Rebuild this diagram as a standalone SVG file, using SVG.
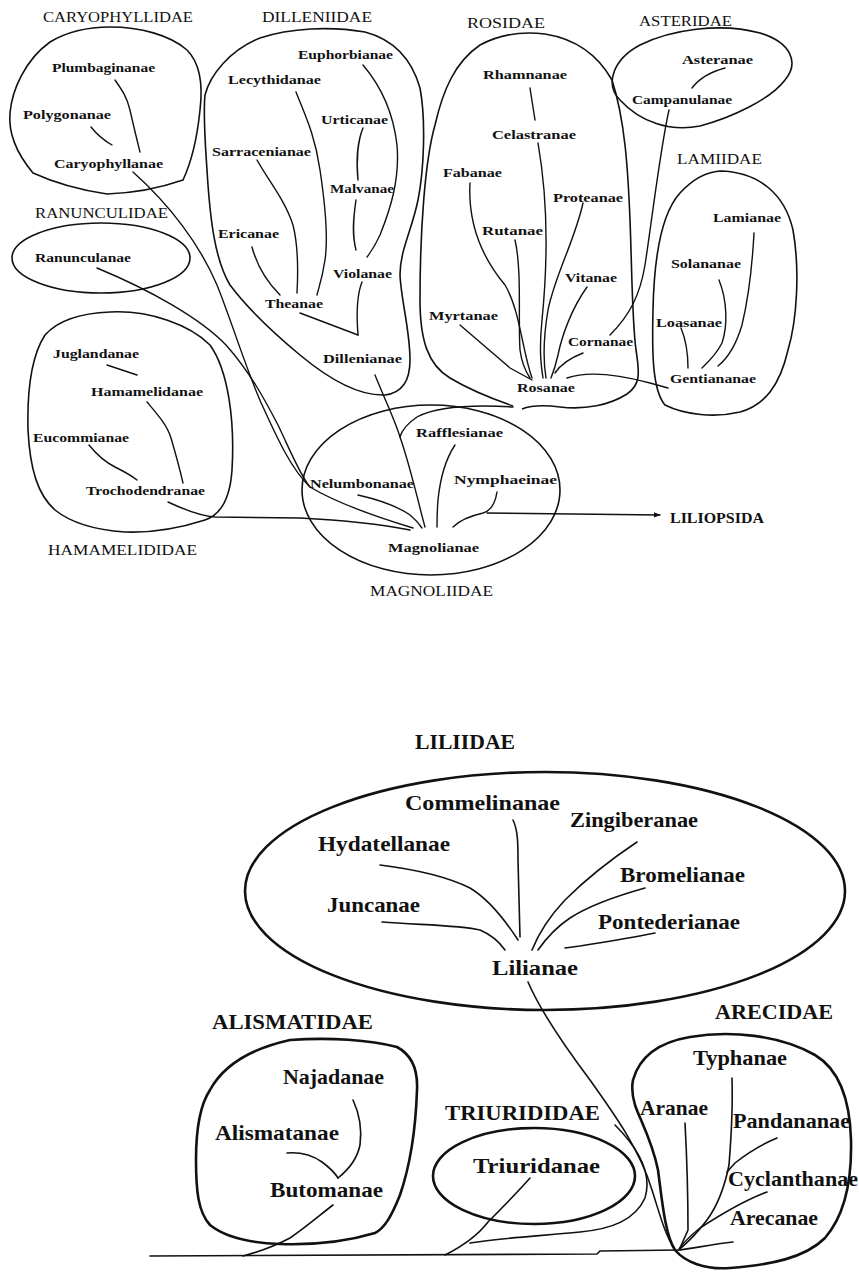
<svg xmlns="http://www.w3.org/2000/svg" width="859" height="1272" viewBox="0 0 859 1272">
<style>
.n{font-family:"Liberation Serif","Times New Roman",serif;font-weight:bold;font-size:13.5px;fill:#111}
.h{font-family:"Liberation Serif","Times New Roman",serif;font-size:15px;fill:#111}
.b{font-family:"Liberation Serif","Times New Roman",serif;font-weight:bold;font-size:21px;fill:#111}
.o{fill:none;stroke:#111;stroke-width:1.6}
.ot{fill:none;stroke:#111;stroke-width:2.6}
.c{fill:none;stroke:#111;stroke-width:1.4;stroke-linecap:round}
.cb{fill:none;stroke:#111;stroke-width:1.6;stroke-linecap:round}
</style>
<defs>
<marker id="arr" viewBox="0 0 10 10" refX="9" refY="5" markerWidth="7" markerHeight="7" orient="auto" markerUnits="userSpaceOnUse">
<path d="M0,1 L10,5 L0,9 Z" fill="#111"/>
</marker>
</defs>
<rect width="859" height="1272" fill="#fff"/>

<g id="connectors">
<!-- Caryophyllidae -->
<path class="c" d="M115,80 C122,90 127,97 130,110 C134,128 137,140 140,152"/>
<path class="c" d="M91,127 C98,136 105,141 112,145"/>
<!-- to Magnolianae -->
<path class="c" d="M133,172 C170,205 200,245 217,285 C233,325 248,375 263,407 C278,440 292,470 310,487 C340,505 380,518 413,528"/>
<path class="c" d="M97,268 C150,290 200,318 226,345 C250,372 265,400 278,425 C290,450 300,475 310,487"/>
<path class="c" d="M168,502 C185,510 200,516 215,517 L300,518 C340,520 380,524 410,530"/>
<!-- Hamamelididae -->
<path class="c" d="M107,365 L137,375"/>
<path class="c" d="M147,402 C158,415 167,425 171,438 C176,455 180,470 183,483"/>
<path class="c" d="M89,445 C97,455 105,462 115,467 C125,472 132,476 137,480"/>
<!-- Dilleniidae -->
<path class="c" d="M363,65 C380,85 393,110 397,145 C400,180 390,210 380,235 C374,248 370,253 367,257"/>
<path class="c" d="M296,92 C305,115 315,135 320,170 C326,210 328,240 325,260 C322,280 318,290 317,295"/>
<path class="c" d="M363,128 C358,140 356,160 358,180"/>
<path class="c" d="M356,200 C353,220 352,235 356,250"/>
<path class="c" d="M257,160 C268,180 285,200 293,225 C298,245 298,275 297,293"/>
<path class="c" d="M252,247 C256,262 265,280 280,295"/>
<path class="c" d="M362,282 C358,292 356,310 358,335"/>
<path class="c" d="M300,313 L358,335"/>
<path class="c" d="M375,375 C385,400 395,420 400,437 C408,460 414,485 418,500 C421,512 423,520 425,527"/>
<path class="c" d="M513,407 C480,405 440,405 417,417 C408,423 402,430 400,437"/>
<!-- Rosidae -->
<path class="c" d="M530,88 L535,120"/>
<path class="c" d="M538,143 C548,200 548,260 542,320 C539,350 541,365 543,378"/>
<path class="c" d="M470,183 C468,220 480,255 505,285 C520,310 522,350 532,378"/>
<path class="c" d="M515,240 C522,270 518,320 520,350 C522,365 526,372 530,378"/>
<path class="c" d="M583,203 C575,240 555,275 548,310 C543,340 543,360 546,378"/>
<path class="c" d="M587,287 C572,308 562,335 558,355 C555,368 553,373 551,378"/>
<path class="c" d="M583,353 C570,358 561,364 555,373"/>
<path class="c" d="M460,325 L510,368 L532,380"/>
<path class="c" d="M567,378 C590,370 620,375 650,383 L668,388"/>
<!-- Asteridae / Lamiidae -->
<path class="c" d="M725,68 C710,72 698,80 692,88"/>
<path class="c" d="M669,110 C660,150 652,220 645,265 C640,295 630,315 610,335"/>
<path class="c" d="M754,233 C752,270 748,300 742,325 C736,345 728,358 718,366"/>
<path class="c" d="M719,280 C727,300 728,325 722,343 C716,355 708,362 702,368"/>
<path class="c" d="M681,328 C686,340 688,355 688,368"/>
<!-- Magnoliidae -->
<path class="c" d="M358,495 C380,500 400,508 410,515 C416,520 420,525 422,528"/>
<path class="c" d="M455,445 C445,460 440,480 438,500 C437,512 437,520 437,527"/>
<path class="c" d="M497,492 C495,505 490,511 483,513 C470,516 460,520 453,527"/>
<path class="c" d="M487,513 L660,515" marker-end="url(#arr)"/>
<!-- Liliidae -->
<path class="cb" d="M513,820 C518,830 518,845 518,860 L520,937"/>
<path class="cb" d="M380,865 C420,870 450,878 470,888 C490,900 505,920 518,940"/>
<path class="cb" d="M382,922 C420,925 460,925 480,930 C492,935 500,943 505,950"/>
<path class="cb" d="M637,842 C610,860 585,880 565,900 C548,918 538,935 532,950"/>
<path class="cb" d="M645,888 C620,895 590,905 570,918 C555,928 545,940 538,950"/>
<path class="cb" d="M655,933 C630,938 605,942 580,946 L565,948"/>
<path class="cb" d="M528,982 C540,1010 560,1040 590,1080 C615,1115 640,1150 652,1190 C660,1215 665,1235 675,1250"/>
<!-- Alismatidae -->
<path class="cb" d="M353,1100 C360,1115 362,1130 360,1145 C357,1160 348,1170 338,1178"/>
<path class="cb" d="M287,1153 C300,1152 312,1155 322,1162 C330,1168 335,1173 338,1178"/>
<path class="cb" d="M333,1205 C320,1215 305,1228 290,1238 C275,1246 258,1252 243,1256"/>
<!-- Triurididae -->
<path class="cb" d="M530,1178 C515,1195 498,1212 488,1222 C478,1235 465,1245 445,1255"/>
<path class="cb" d="M470,1243 C500,1238 540,1236 580,1232 C612,1229 635,1220 645,1198 C652,1175 640,1150 615,1125"/>
<!-- Arecidae -->
<path class="cb" d="M685,1123 C687,1160 688,1200 688,1230 L680,1248"/>
<path class="cb" d="M732,1078 C733,1110 731,1140 729,1165 C725,1185 718,1205 707,1220 C698,1232 688,1242 680,1249"/>
<path class="cb" d="M777,1138 C760,1145 745,1155 735,1163 L727,1172"/>
<path class="cb" d="M767,1192 C745,1200 720,1215 700,1228 C690,1236 684,1242 679,1249"/>
<path class="cb" d="M733,1242 C715,1244 700,1247 680,1250"/>
<path class="cb" d="M150,1256 L597,1254 L600,1251 L680,1250"/>
</g>

<g id="caryophyllidae">
<path class="o" d="M33,173 C18,155 8,135 10,113 C12,90 25,60 50,42 C70,30 90,27 110,27 C140,27 170,35 187,50 C200,63 203,85 200,110 C197,140 190,165 183,180 C160,188 135,193 107,194 C80,190 55,183 33,173 Z"/>
<text class="h" x="43" y="22" textLength="150" lengthAdjust="spacingAndGlyphs">CARYOPHYLLIDAE</text>
<text class="n" x="52" y="72" textLength="103" lengthAdjust="spacingAndGlyphs">Plumbaginanae</text>
<text class="n" x="23" y="119" textLength="88" lengthAdjust="spacingAndGlyphs">Polygonanae</text>
<text class="n" x="54" y="168" textLength="109" lengthAdjust="spacingAndGlyphs">Caryophyllanae</text>
</g>

<g id="ranunculidae">
<ellipse class="o" cx="101" cy="258" rx="89" ry="35"/>
<text class="h" x="35" y="218" textLength="133" lengthAdjust="spacingAndGlyphs">RANUNCULIDAE</text>
<text class="n" x="35" y="262" textLength="96" lengthAdjust="spacingAndGlyphs">Ranunculanae</text>
</g>

<g id="dilleniidae">
<path class="o" d="M205,95 C210,75 230,50 260,38 C290,28 330,26 365,32 C395,40 412,60 420,88 C426,120 424,170 418,200 C412,230 400,250 400,275 C401,300 410,330 410,360 C410,380 402,393 385,395 C360,396 330,380 300,355 C270,330 245,305 230,285 C215,260 210,220 207,170 C205,140 203,115 205,95 Z"/>
<text class="h" x="262" y="22" textLength="110" lengthAdjust="spacingAndGlyphs">DILLENIIDAE</text>
<text class="n" x="298" y="59" textLength="95" lengthAdjust="spacingAndGlyphs">Euphorbianae</text>
<text class="n" x="228" y="84" textLength="93" lengthAdjust="spacingAndGlyphs">Lecythidanae</text>
<text class="n" x="321" y="124" textLength="67" lengthAdjust="spacingAndGlyphs">Urticanae</text>
<text class="n" x="212" y="156" textLength="99" lengthAdjust="spacingAndGlyphs">Sarracenianae</text>
<text class="n" x="330" y="193" textLength="64" lengthAdjust="spacingAndGlyphs">Malvanae</text>
<text class="n" x="218" y="238" textLength="61" lengthAdjust="spacingAndGlyphs">Ericanae</text>
<text class="n" x="333" y="278" textLength="59" lengthAdjust="spacingAndGlyphs">Violanae</text>
<text class="n" x="265" y="308" textLength="58" lengthAdjust="spacingAndGlyphs">Theanae</text>
<text class="n" x="323" y="363" textLength="79" lengthAdjust="spacingAndGlyphs">Dillenianae</text>
</g>

<g id="rosidae">
<path class="o" d="M513,406 C490,398 470,390 450,378 C428,365 420,340 420,300 C420,230 425,160 435,125 C443,90 455,62 480,45 C500,34 520,31 545,34 C570,38 595,50 612,80 C625,120 628,170 630,220 C632,270 632,320 636,350 C640,375 640,385 627,394 C610,405 585,410 560,407 C545,405 532,405 522,409"/>
<text class="h" x="467" y="28" textLength="78" lengthAdjust="spacingAndGlyphs">ROSIDAE</text>
<text class="n" x="483" y="79" textLength="84" lengthAdjust="spacingAndGlyphs">Rhamnanae</text>
<text class="n" x="492" y="139" textLength="84" lengthAdjust="spacingAndGlyphs">Celastranae</text>
<text class="n" x="443" y="177" textLength="59" lengthAdjust="spacingAndGlyphs">Fabanae</text>
<text class="n" x="553" y="202" textLength="70" lengthAdjust="spacingAndGlyphs">Proteanae</text>
<text class="n" x="482" y="235" textLength="61" lengthAdjust="spacingAndGlyphs">Rutanae</text>
<text class="n" x="565" y="282" textLength="52" lengthAdjust="spacingAndGlyphs">Vitanae</text>
<text class="n" x="429" y="320" textLength="69" lengthAdjust="spacingAndGlyphs">Myrtanae</text>
<text class="n" x="568" y="346" textLength="65" lengthAdjust="spacingAndGlyphs">Cornanae</text>
<text class="n" x="517" y="392" textLength="58" lengthAdjust="spacingAndGlyphs">Rosanae</text>
</g>

<g id="asteridae">
<path class="o" d="M620,100 C605,85 612,60 640,45 C670,30 720,22 760,33 C790,42 800,62 785,80 C770,100 730,118 700,126 C670,132 640,122 620,100 Z"/>
<text class="h" x="639" y="26" textLength="93" lengthAdjust="spacingAndGlyphs">ASTERIDAE</text>
<text class="n" x="682" y="64" textLength="71" lengthAdjust="spacingAndGlyphs">Asteranae</text>
<text class="n" x="632" y="104" textLength="100" lengthAdjust="spacingAndGlyphs">Campanulanae</text>
</g>

<g id="lamiidae">
<path class="o" d="M720,171 C760,172 785,195 793,230 C800,270 797,320 788,350 C780,385 765,405 740,412 C715,418 685,415 665,405 C652,390 652,350 653,310 C654,260 660,215 680,193 C692,180 705,172 720,171 Z"/>
<text class="h" x="677" y="164" textLength="85" lengthAdjust="spacingAndGlyphs">LAMIIDAE</text>
<text class="n" x="713" y="222" textLength="68" lengthAdjust="spacingAndGlyphs">Lamianae</text>
<text class="n" x="671" y="268" textLength="70" lengthAdjust="spacingAndGlyphs">Solananae</text>
<text class="n" x="656" y="327" textLength="66" lengthAdjust="spacingAndGlyphs">Loasanae</text>
<text class="n" x="670" y="383" textLength="86" lengthAdjust="spacingAndGlyphs">Gentiananae</text>
</g>

<g id="hamamelididae">
<path class="o" d="M110,312 C150,310 190,325 210,345 C228,370 235,420 232,470 C230,500 220,515 205,520 C180,528 150,533 125,532 C95,530 70,522 55,510 C38,495 30,470 28,430 C27,390 32,355 45,335 C60,318 85,313 110,312 Z"/>
<text class="h" x="48" y="555" textLength="149" lengthAdjust="spacingAndGlyphs">HAMAMELIDIDAE</text>
<text class="n" x="53" y="358" textLength="86" lengthAdjust="spacingAndGlyphs">Juglandanae</text>
<text class="n" x="91" y="396" textLength="112" lengthAdjust="spacingAndGlyphs">Hamamelidanae</text>
<text class="n" x="33" y="442" textLength="96" lengthAdjust="spacingAndGlyphs">Eucommianae</text>
<text class="n" x="86" y="495" textLength="119" lengthAdjust="spacingAndGlyphs">Trochodendranae</text>
</g>

<g id="magnoliidae">
<ellipse class="o" cx="431" cy="490" rx="129" ry="85"/>
<text class="h" x="370" y="596" textLength="123" lengthAdjust="spacingAndGlyphs">MAGNOLIIDAE</text>
<text class="n" x="416" y="437" textLength="87" lengthAdjust="spacingAndGlyphs">Rafflesianae</text>
<text class="n" x="454" y="484" textLength="103" lengthAdjust="spacingAndGlyphs">Nymphaeinae</text>
<text class="n" x="310" y="488" textLength="104" lengthAdjust="spacingAndGlyphs">Nelumbonanae</text>
<text class="n" x="388" y="552" textLength="91" lengthAdjust="spacingAndGlyphs">Magnolianae</text>
</g>

<g id="liliopsida">
<text class="n" x="670" y="523" textLength="94" lengthAdjust="spacingAndGlyphs" style="font-size:15px">LILIOPSIDA</text>
</g>

<g id="liliidae">
<ellipse class="ot" cx="545" cy="891" rx="300" ry="119"/>
<text class="b" x="415" y="749" textLength="100" lengthAdjust="spacingAndGlyphs">LILIIDAE</text>
<text class="b" x="405" y="810" textLength="155" lengthAdjust="spacingAndGlyphs">Commelinanae</text>
<text class="b" x="570" y="827" textLength="128" lengthAdjust="spacingAndGlyphs">Zingiberanae</text>
<text class="b" x="318" y="851" textLength="132" lengthAdjust="spacingAndGlyphs">Hydatellanae</text>
<text class="b" x="620" y="882" textLength="125" lengthAdjust="spacingAndGlyphs">Bromelianae</text>
<text class="b" x="327" y="912" textLength="93" lengthAdjust="spacingAndGlyphs">Juncanae</text>
<text class="b" x="598" y="929" textLength="142" lengthAdjust="spacingAndGlyphs">Pontederianae</text>
<text class="b" x="492" y="975" textLength="86" lengthAdjust="spacingAndGlyphs">Lilianae</text>
</g>

<g id="alismatidae">
<path class="ot" d="M290,1040 C330,1037 370,1040 397,1047 C412,1055 418,1070 417,1090 C416,1120 412,1160 400,1195 C392,1215 385,1228 375,1233 C345,1242 310,1245 280,1244 C250,1243 225,1237 210,1225 C198,1212 196,1190 196,1160 C196,1130 200,1105 210,1090 C222,1068 245,1050 290,1040 Z"/>
<text class="b" x="212" y="1029" textLength="161" lengthAdjust="spacingAndGlyphs">ALISMATIDAE</text>
<text class="b" x="283" y="1084" textLength="101" lengthAdjust="spacingAndGlyphs">Najadanae</text>
<text class="b" x="215" y="1140" textLength="124" lengthAdjust="spacingAndGlyphs">Alismatanae</text>
<text class="b" x="270" y="1197" textLength="113" lengthAdjust="spacingAndGlyphs">Butomanae</text>
</g>

<g id="triurididae">
<ellipse class="ot" cx="534" cy="1176" rx="101" ry="48"/>
<text class="b" x="445" y="1120" textLength="155" lengthAdjust="spacingAndGlyphs">TRIURIDIDAE</text>
<text class="b" x="473" y="1173" textLength="127" lengthAdjust="spacingAndGlyphs">Triuridanae</text>
</g>

<g id="arecidae">
<path class="ot" d="M633,1080 C640,1055 660,1042 690,1037 C730,1030 780,1035 815,1055 C840,1070 850,1100 851,1140 C852,1180 845,1215 825,1238 C805,1258 770,1265 730,1268 C705,1270 685,1262 675,1250 C665,1235 662,1200 658,1170 C652,1140 640,1120 635,1105 C632,1095 632,1085 633,1080 Z"/>
<text class="b" x="715" y="1019" textLength="118" lengthAdjust="spacingAndGlyphs">ARECIDAE</text>
<text class="b" x="693" y="1065" textLength="94" lengthAdjust="spacingAndGlyphs">Typhanae</text>
<text class="b" x="640" y="1115" textLength="68" lengthAdjust="spacingAndGlyphs">Aranae</text>
<text class="b" x="733" y="1128" textLength="117" lengthAdjust="spacingAndGlyphs">Pandananae</text>
<text class="b" x="728" y="1186" textLength="130" lengthAdjust="spacingAndGlyphs">Cyclanthanae</text>
<text class="b" x="730" y="1225" textLength="88" lengthAdjust="spacingAndGlyphs">Arecanae</text>
</g>
</svg>
